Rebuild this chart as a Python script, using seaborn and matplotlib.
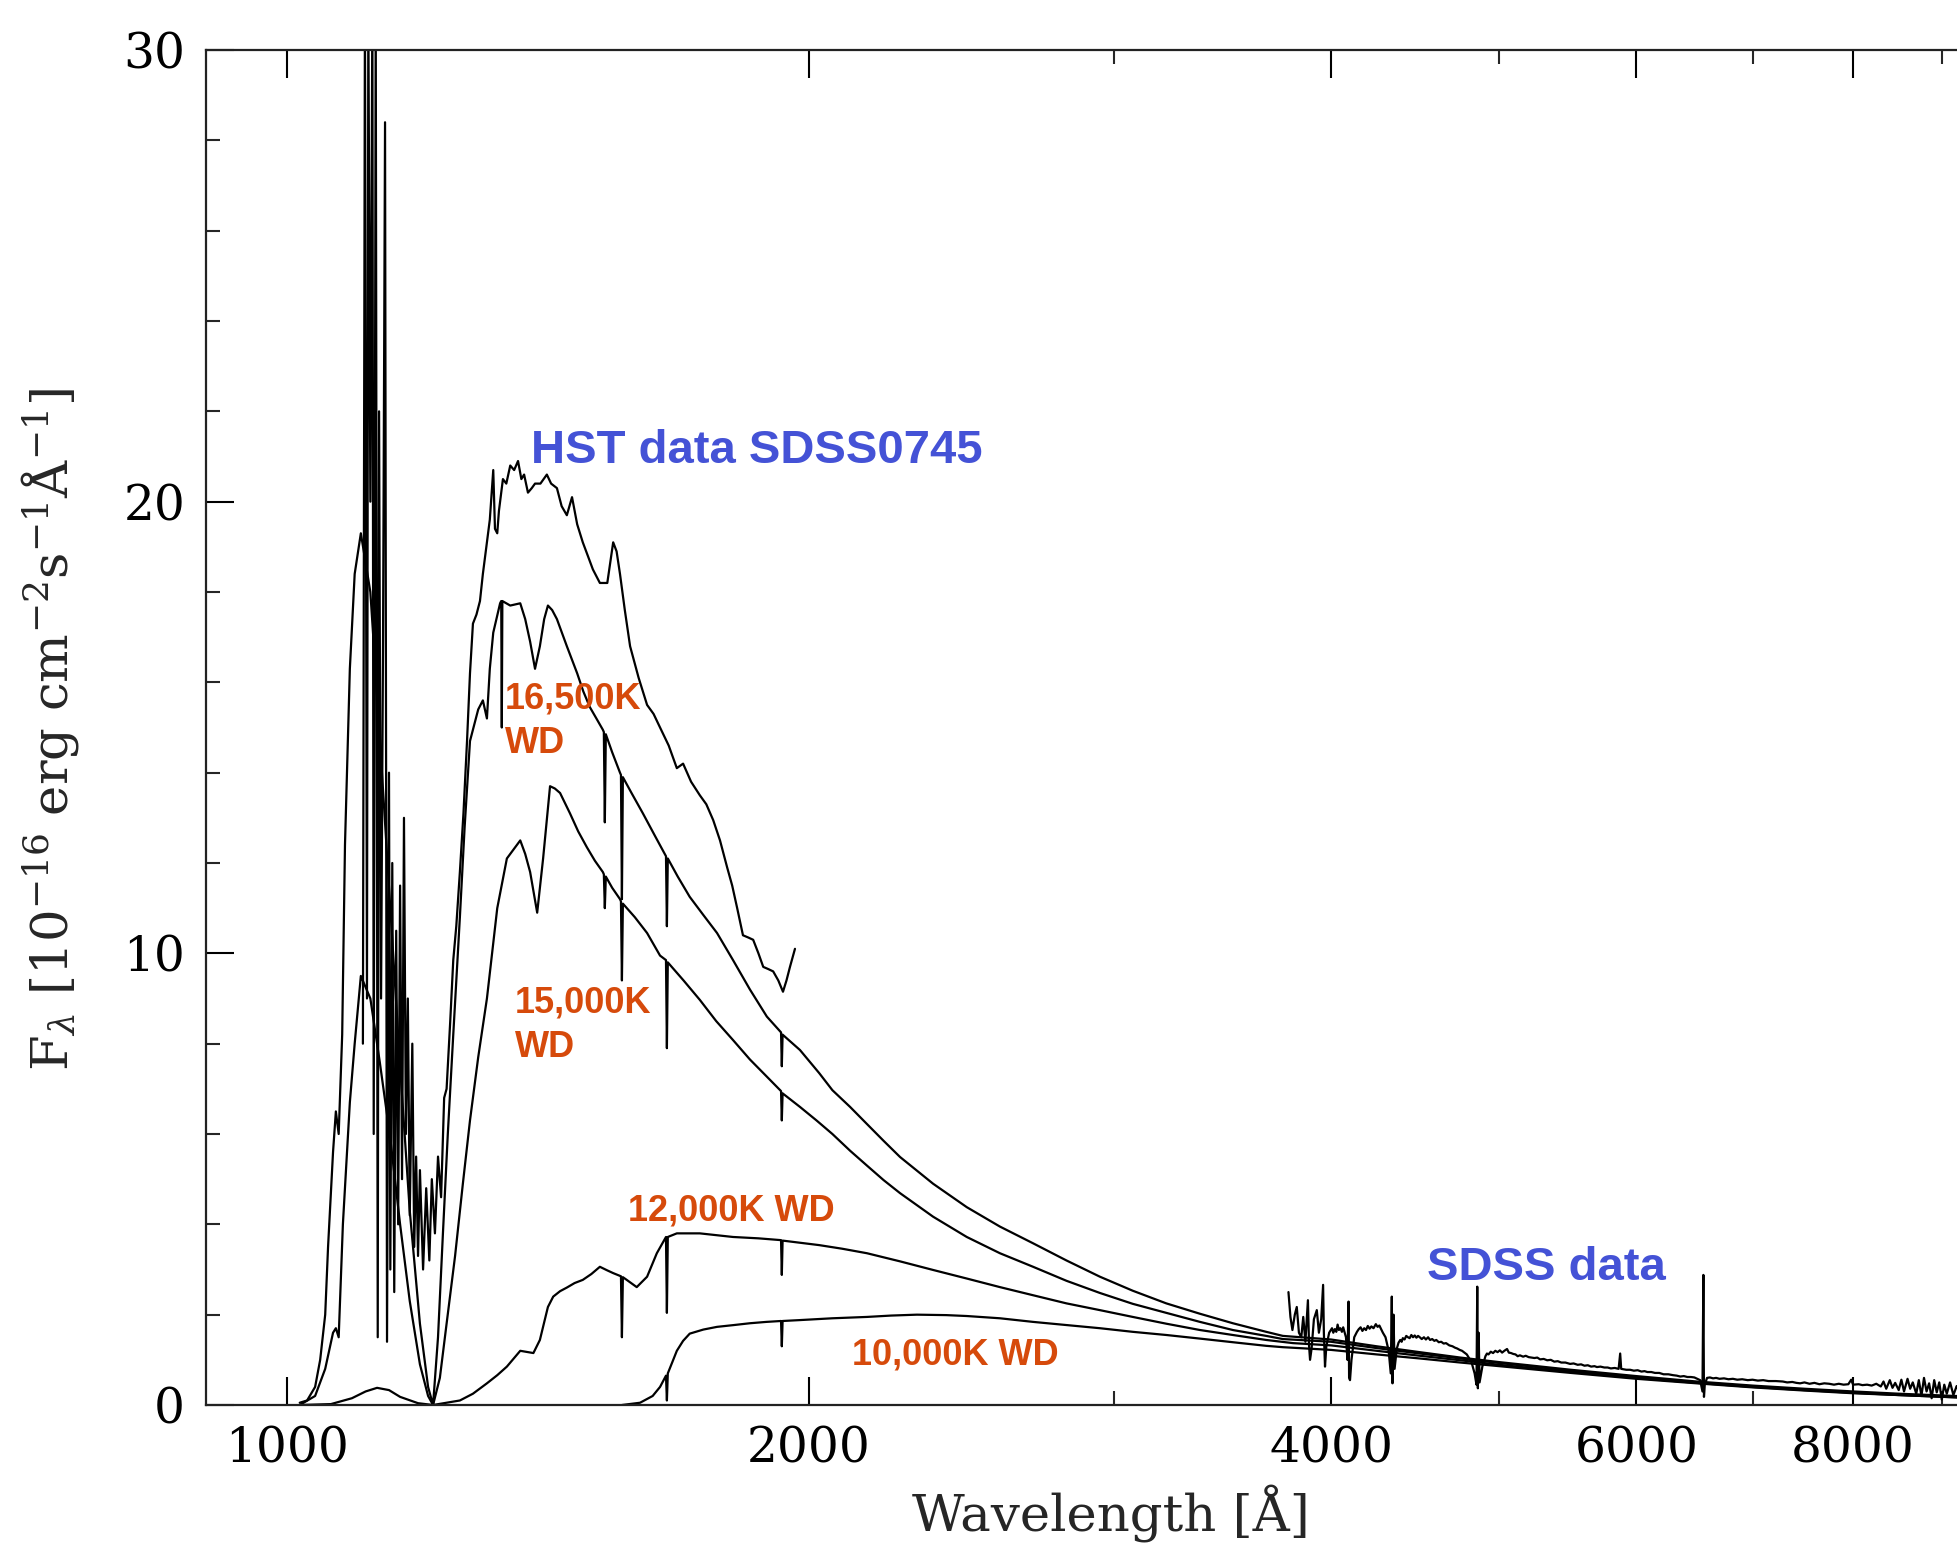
import matplotlib
matplotlib.use("Agg")
import matplotlib.pyplot as plt
import numpy as np
import pandas as pd
import seaborn as sns
from matplotlib.ticker import FixedLocator, NullFormatter, MultipleLocator

# ---------------- data (wavelength [A], flux [1e-16 erg/cm2/s/A]) ----------------
hst_data = [(1106, 8.0), (1109, 31), (1112, 9.0), (1114, 31), (1117, 20.0), (1120, 31),
            (1122, 6.0), (1125, 31), (1128, 1.5), (1130, 22.0), (1133, 9.0), (1136, 17.0),
            (1139, 28.4), (1142, 1.4), (1145, 14.0), (1147, 3.0), (1150, 12.0), (1153, 2.5),
            (1156, 10.5), (1159, 4.0), (1162, 11.5), (1165, 5.0), (1168, 13.0), (1171, 6.0),
            (1174, 9.0), (1177, 4.2), (1181, 8.0), (1184, 3.5), (1187, 5.5), (1190, 3.3),
            (1193, 5.2), (1198, 3.0), (1203, 4.8), (1208, 3.2), (1212, 5.0), (1217, 3.8),
            (1222, 5.5), (1227, 4.6), (1232, 6.8), (1236, 7.0), (1242, 8.5), (1247, 9.85),
            (1252, 10.6), (1258, 11.8), (1264, 13.1), (1270, 14.7), (1275, 16.2), (1280, 17.3),
            (1286, 17.5), (1292, 17.8), (1297, 18.4), (1303, 19.0), (1309, 19.6), (1315, 20.7),
            (1318, 19.4), (1322, 19.3), (1325, 19.8), (1332, 20.5), (1338, 20.4), (1345, 20.8),
            (1352, 20.7), (1359, 20.9), (1365, 20.5), (1370, 20.6), (1377, 20.2), (1384, 20.3),
            (1390, 20.4), (1400, 20.4), (1412, 20.6), (1420, 20.4), (1431, 20.3), (1440, 19.9),
            (1450, 19.7), (1460, 20.1), (1470, 19.5), (1481, 19.1), (1491, 18.8), (1501, 18.5),
            (1515, 18.2), (1530, 18.2), (1542, 19.1), (1549, 18.9), (1556, 18.4), (1566, 17.6),
            (1577, 16.8), (1595, 16.1), (1613, 15.5), (1627, 15.3), (1641, 15.0), (1660, 14.6),
            (1678, 14.1), (1692, 14.2), (1710, 13.8), (1730, 13.5), (1745, 13.3), (1761, 12.95),
            (1777, 12.5), (1794, 11.9), (1806, 11.5), (1818, 11.0), (1832, 10.4), (1845, 10.35),
            (1857, 10.3), (1870, 10.0), (1882, 9.7), (1895, 9.65), (1907, 9.6), (1920, 9.4),
            (1932, 9.15), (1941, 9.4), (1950, 9.7), (1963, 10.1)]

wd_16500 = [(1017, 0.05), (1027, 0.1), (1038, 0.4), (1045, 1.0), (1052, 2.0), (1056, 3.5),
            (1063, 5.6), (1067, 6.5), (1071, 6.0), (1076, 8.2), (1080, 12.4), (1087, 16.3),
            (1094, 18.4), (1103, 19.3), (1117, 18.0), (1131, 14.8), (1147, 11.0), (1162, 7.5),
            (1177, 4.3), (1193, 1.8), (1206, 0.4), (1214, 0.0), (1222, 1.5), (1230, 3.8),
            (1238, 6.0), (1247, 8.2), (1258, 10.8), (1266, 12.8), (1275, 14.7), (1289, 15.4),
            (1297, 15.6), (1304, 15.2), (1309, 16.3), (1315, 17.1), (1327, 17.75), (1329, 17.8),
            (1330, 15.0), (1331, 17.8), (1345, 17.7), (1363, 17.75), (1372, 17.4), (1381, 16.9),
            (1390, 16.3), (1399, 16.8), (1407, 17.4), (1414, 17.7), (1422, 17.6), (1431, 17.4),
            (1450, 16.8), (1470, 16.2), (1482, 15.8), (1495, 15.45), (1508, 15.2), (1521, 14.95),
            (1523, 14.9), (1525, 12.9), (1527, 14.85), (1540, 14.45), (1556, 14.0), (1558, 13.95),
            (1560, 11.2), (1562, 13.9), (1580, 13.55), (1604, 13.1), (1630, 12.6), (1654, 12.15),
            (1656, 10.6), (1658, 12.1), (1680, 11.7), (1707, 11.25), (1738, 10.85), (1770, 10.45),
            (1808, 9.85), (1849, 9.2), (1891, 8.6), (1927, 8.25), (1929, 7.5), (1931, 8.2),
            (1976, 7.86), (2027, 7.35), (2063, 6.97), (2112, 6.6), (2160, 6.22), (2208, 5.85),
            (2257, 5.49), (2358, 4.9), (2466, 4.38), (2577, 3.95), (2693, 3.58), (2815, 3.2),
            (2943, 2.84), (3074, 2.53), (3214, 2.25), (3361, 2.02), (3511, 1.81), (3670, 1.62),
            (3752, 1.53), (4000, 1.45), (4250, 1.3), (4500, 1.17), (4750, 1.05), (5000, 0.95),
            (5500, 0.78), (6000, 0.64), (6500, 0.52), (7000, 0.43), (7500, 0.36), (8000, 0.30),
            (8500, 0.25), (9300, 0.19)]

wd_15000 = [(1017, 0.0), (1038, 0.2), (1052, 0.8), (1063, 1.6), (1067, 1.7), (1071, 1.5),
            (1077, 4.0), (1087, 6.7), (1094, 8.0), (1103, 9.5), (1117, 9.0), (1131, 7.6),
            (1147, 5.9), (1162, 4.0), (1177, 2.3), (1193, 0.9), (1206, 0.2), (1214, 0.0),
            (1225, 0.6), (1236, 1.8), (1250, 3.3), (1263, 4.9), (1275, 6.3), (1289, 7.7),
            (1304, 9.0), (1322, 11.0), (1339, 12.1), (1363, 12.5), (1372, 12.2), (1381, 11.8),
            (1394, 10.9), (1405, 12.1), (1418, 13.7), (1427, 13.65), (1437, 13.55), (1456, 13.1),
            (1472, 12.7), (1489, 12.35), (1505, 12.05), (1521, 11.8), (1523, 11.75), (1525, 11.0),
            (1527, 11.7), (1540, 11.45), (1556, 11.2), (1558, 11.15), (1560, 9.4), (1562, 11.1),
            (1587, 10.8), (1613, 10.45), (1641, 9.95), (1654, 9.85), (1656, 7.9), (1658, 9.8),
            (1693, 9.4), (1730, 8.97), (1768, 8.5), (1808, 8.08), (1849, 7.65), (1891, 7.27),
            (1927, 6.95), (1929, 6.3), (1931, 6.9), (1976, 6.6), (2020, 6.3), (2063, 6.0),
            (2112, 5.63), (2160, 5.3), (2208, 4.98), (2257, 4.69), (2358, 4.17), (2466, 3.72),
            (2577, 3.36), (2693, 3.06), (2815, 2.75), (2943, 2.48), (3074, 2.24), (3214, 2.04),
            (3361, 1.84), (3511, 1.66), (3670, 1.53), (3752, 1.46), (4000, 1.40), (4250, 1.26),
            (4500, 1.14), (4750, 1.03), (5000, 0.93), (5500, 0.76), (6000, 0.62), (6500, 0.50),
            (7000, 0.41), (7500, 0.34), (8000, 0.28), (8500, 0.23), (9300, 0.17)]

wd_12000 = [(1017, 0.0), (1060, 0.02), (1090, 0.15), (1110, 0.3), (1127, 0.38), (1145, 0.33),
            (1162, 0.18), (1190, 0.04), (1214, 0.0), (1258, 0.1), (1280, 0.25), (1304, 0.48),
            (1322, 0.66), (1339, 0.85), (1363, 1.2), (1387, 1.15), (1399, 1.44), (1414, 2.17),
            (1424, 2.4), (1437, 2.52), (1450, 2.6), (1465, 2.7), (1481, 2.77), (1498, 2.9),
            (1515, 3.06), (1530, 2.98), (1542, 2.92), (1558, 2.85), (1560, 1.5), (1562, 2.83),
            (1570, 2.77), (1591, 2.61), (1613, 2.84), (1634, 3.36), (1654, 3.72), (1656, 2.04),
            (1658, 3.72), (1678, 3.8), (1730, 3.8), (1808, 3.72), (1870, 3.69), (1927, 3.65),
            (1929, 2.88), (1931, 3.64), (2027, 3.54), (2090, 3.46), (2160, 3.36), (2257, 3.18),
            (2358, 2.99), (2466, 2.8), (2577, 2.61), (2693, 2.43), (2815, 2.25), (2943, 2.1),
            (3074, 1.95), (3214, 1.8), (3361, 1.66), (3511, 1.55), (3670, 1.44), (3803, 1.37),
            (4000, 1.32), (4250, 1.2), (4500, 1.09), (4750, 0.99), (5000, 0.89), (5500, 0.73),
            (6000, 0.60), (6500, 0.49), (7000, 0.40), (7500, 0.33), (8000, 0.27), (8500, 0.22),
            (9300, 0.16)]

wd_10000 = [(1560, 0.0), (1598, 0.05), (1625, 0.2), (1641, 0.4), (1654, 0.65), (1656, 0.1),
            (1658, 0.7), (1668, 0.95), (1678, 1.2), (1692, 1.42), (1707, 1.58), (1738, 1.67),
            (1770, 1.73), (1810, 1.77), (1849, 1.81), (1890, 1.84), (1927, 1.86), (1929, 1.3),
            (1931, 1.86), (1976, 1.88), (2063, 1.92), (2160, 1.95), (2230, 1.98), (2308, 2.0),
            (2400, 1.99), (2466, 1.97), (2577, 1.92), (2693, 1.84), (2815, 1.77), (2943, 1.70),
            (3074, 1.62), (3214, 1.55), (3361, 1.47), (3511, 1.39), (3670, 1.31), (3752, 1.28),
            (4000, 1.22), (4250, 1.12), (4500, 1.03), (4750, 0.94), (5000, 0.86), (5500, 0.71),
            (6000, 0.58), (6500, 0.48), (7000, 0.39), (7500, 0.32), (8000, 0.26), (8500, 0.22),
            (9300, 0.16)]

sdss_data = [(3780, 2.50), (3790, 1.95), (3800, 1.66), (3812, 2.0), (3822, 2.17), (3833, 1.6),
             (3845, 1.5), (3855, 1.95), (3866, 1.4), (3879, 2.32), (3885, 1.3), (3890, 1.0),
             (3898, 1.25), (3910, 1.9), (3925, 2.1), (3936, 1.6), (3948, 1.9), (3958, 2.66),
             (3962, 1.6), (3968, 0.85), (3975, 1.3), (3990, 1.6), (4005, 1.7), (4012, 1.6),
             (4020, 1.68), (4028, 1.62), (4035, 1.78), (4042, 1.66), (4050, 1.7), (4058, 1.62),
             (4065, 1.72), (4080, 1.5), (4088, 1.0), (4094, 2.29), (4097, 0.6), (4102, 0.55),
             (4110, 1.0), (4125, 1.5), (4140, 1.62), (4150, 1.68), (4160, 1.72), (4170, 1.64),
             (4180, 1.7), (4190, 1.66), (4200, 1.75), (4210, 1.69), (4220, 1.74), (4232, 1.7),
             (4245, 1.79), (4255, 1.73), (4265, 1.76), (4275, 1.68), (4285, 1.6), (4300, 1.5),
             (4318, 1.2), (4330, 0.7), (4336, 2.4), (4340, 0.48), (4346, 2.0), (4352, 0.8),
             (4365, 1.25), (4375, 1.38), (4385, 1.44), (4393, 1.4), (4400, 1.48), (4410, 1.45),
             (4420, 1.53), (4430, 1.5), (4440, 1.48), (4450, 1.55), (4460, 1.5), (4470, 1.54),
             (4480, 1.49), (4490, 1.53), (4500, 1.5), (4512, 1.46), (4525, 1.5), (4537, 1.45),
             (4550, 1.5), (4562, 1.44), (4575, 1.46), (4588, 1.42), (4600, 1.44), (4615, 1.39),
             (4630, 1.4), (4645, 1.36), (4660, 1.37), (4680, 1.32), (4700, 1.3), (4715, 1.27),
             (4730, 1.25), (4745, 1.22), (4760, 1.2), (4775, 1.16), (4790, 1.12), (4820, 0.95),
             (4840, 0.7), (4852, 0.45), (4857, 2.62), (4861, 0.37), (4866, 1.6), (4872, 0.5),
             (4890, 0.85), (4910, 1.08), (4920, 1.14), (4930, 1.12), (4945, 1.18), (4960, 1.15),
             (4975, 1.2), (4990, 1.17), (5005, 1.21), (5020, 1.16), (5035, 1.2), (5053, 1.24),
             (5065, 1.16), (5080, 1.15), (5095, 1.13), (5110, 1.12), (5125, 1.08), (5140, 1.1),
             (5162, 1.07), (5180, 1.09), (5200, 1.06), (5220, 1.05), (5240, 1.04), (5260, 1.05),
             (5280, 1.01), (5305, 1.02), (5330, 0.99), (5355, 1.0), (5380, 0.96), (5405, 0.97),
             (5430, 0.94), (5460, 0.94), (5494, 0.91), (5520, 0.92), (5550, 0.89), (5575, 0.9),
             (5600, 0.87), (5625, 0.88), (5650, 0.85), (5675, 0.86), (5694, 0.84), (5720, 0.85),
             (5750, 0.83), (5775, 0.83), (5800, 0.81), (5830, 0.82), (5860, 0.8), (5872, 1.14),
             (5880, 0.8), (5900, 0.79), (5920, 0.78), (5950, 0.78), (5980, 0.76), (6010, 0.77),
             (6040, 0.74), (6065, 0.75), (6088, 0.73), (6120, 0.73), (6150, 0.71), (6185, 0.71),
             (6220, 0.68), (6260, 0.68), (6300, 0.66), (6330, 0.65), (6360, 0.63), (6390, 0.64),
             (6420, 0.62), (6450, 0.62), (6480, 0.61), (6530, 0.55), (6550, 0.3), (6558, 2.88),
             (6563, 0.18), (6570, 0.45), (6590, 0.6), (6615, 0.61), (6643, 0.59), (6670, 0.6),
             (6700, 0.58), (6740, 0.59), (6780, 0.57), (6820, 0.58), (6860, 0.56), (6905, 0.57),
             (6956, 0.55), (7000, 0.56), (7050, 0.54), (7100, 0.55), (7150, 0.53), (7220, 0.53),
             (7287, 0.52), (7330, 0.5), (7380, 0.51), (7420, 0.49), (7457, 0.48), (7500, 0.5),
             (7550, 0.47), (7600, 0.49), (7650, 0.46), (7700, 0.48), (7750, 0.47), (7800, 0.45),
             (7850, 0.47), (7900, 0.45), (7950, 0.46), (7980, 0.56), (8000, 0.45), (8060, 0.46),
             (8100, 0.44), (8150, 0.45), (8200, 0.43), (8250, 0.47), (8300, 0.41), (8330, 0.52),
             (8360, 0.36), (8400, 0.55), (8430, 0.38), (8460, 0.49), (8500, 0.33), (8530, 0.56),
             (8560, 0.3), (8600, 0.58), (8630, 0.36), (8660, 0.5), (8700, 0.25), (8730, 0.55),
             (8760, 0.2), (8790, 0.6), (8820, 0.3), (8850, 0.48), (8880, 0.15), (8910, 0.55),
             (8940, 0.28), (8970, 0.5), (9000, 0.12), (9030, 0.45), (9060, 0.25), (9100, 0.5),
             (9140, 0.22), (9180, 0.42), (9220, 0.3), (9300, 0.38)]

series = {"HST": hst_data, "WD16500": wd_16500, "WD15000": wd_15000,
          "WD12000": wd_12000, "WD10000": wd_10000, "SDSS": sdss_data}

x_major_ticks = [1000, 2000, 4000, 6000, 8000]
x_minor_ticks = [3000, 5000, 7000, 9000]
y_major_ticks = [0, 10, 20, 30]

# ---------------- style ----------------
sns.set_theme(style="ticks")
plt.rcParams['font.family'] = ['DejaVu Serif']
plt.rcParams['mathtext.fontset'] = 'dejavuserif'

W, H = 1958, 1545
fig = plt.figure(figsize=(W / 100, H / 100), dpi=100)
fig.patch.set_facecolor('white')
ax = fig.add_axes([206 / W, (H - 1405) / H, (1962 - 206) / W, (1405 - 50) / H])
ax.set_facecolor('white')

for name, pts in series.items():
    df = pd.DataFrame(pts, columns=["wavelength", "flux"])
    sns.lineplot(data=df, x="wavelength", y="flux", ax=ax, color="black",
                 lw=1.6, estimator=None, sort=False, errorbar=None, legend=False)

ax.set_xscale('log')
ax.set_xlim(898, 9245)
ax.set_ylim(0, 30)

ax.xaxis.set_major_locator(FixedLocator(x_major_ticks))
ax.set_xticklabels([str(t) for t in x_major_ticks])
ax.xaxis.set_minor_locator(FixedLocator(x_minor_ticks))
ax.xaxis.set_minor_formatter(NullFormatter())
ax.yaxis.set_major_locator(FixedLocator(y_major_ticks))
ax.set_yticklabels([str(t) for t in y_major_ticks])
ax.yaxis.set_minor_locator(MultipleLocator(2))

ax.tick_params(which='major', direction='in', length=20, width=1.5, top=True, right=False,
               labelsize=35, pad=15, colors='black')
ax.tick_params(which='minor', direction='in', length=10, width=1.5, top=True, right=False)
for s in ax.spines.values():
    s.set_linewidth(1.6)
    s.set_color('#222222')

ax.set_xlabel('')
ax.set_ylabel('')
fig.text(50 / W, 1 - 730 / H, r'F$_\lambda$ [10$^{-16}$ erg cm$^{-2}$s$^{-1}$Å$^{-1}$]',
         rotation=90, ha='center', va='center', fontsize=37)
fig.text(1111 / W, 1 - 1530 / H, 'Wavelength [Å]', ha='center', va='baseline', fontsize=37)

blue = '#4452D6'
orange = '#D64A0B'
ann = dict(family='Liberation Sans', weight='bold', ha='left', va='baseline')
fig.text(531 / W, 1 - 463 / H, 'HST data SDSS0745', color=blue, fontsize=34, **ann)
fig.text(1427 / W, 1 - 1280 / H, 'SDSS data', color=blue, fontsize=34, **ann)
fig.text(505 / W, 1 - 708 / H, '16,500K', color=orange, fontsize=26, **ann)
fig.text(505 / W, 1 - 753 / H, 'WD', color=orange, fontsize=26, **ann)
fig.text(515 / W, 1 - 1012 / H, '15,000K', color=orange, fontsize=26, **ann)
fig.text(515 / W, 1 - 1057 / H, 'WD', color=orange, fontsize=26, **ann)
fig.text(628 / W, 1 - 1220 / H, '12,000K WD', color=orange, fontsize=26, **ann)
fig.text(852 / W, 1 - 1365 / H, '10,000K WD', color=orange, fontsize=26, **ann)

fig.savefig('out.png', dpi=100, facecolor='white')
